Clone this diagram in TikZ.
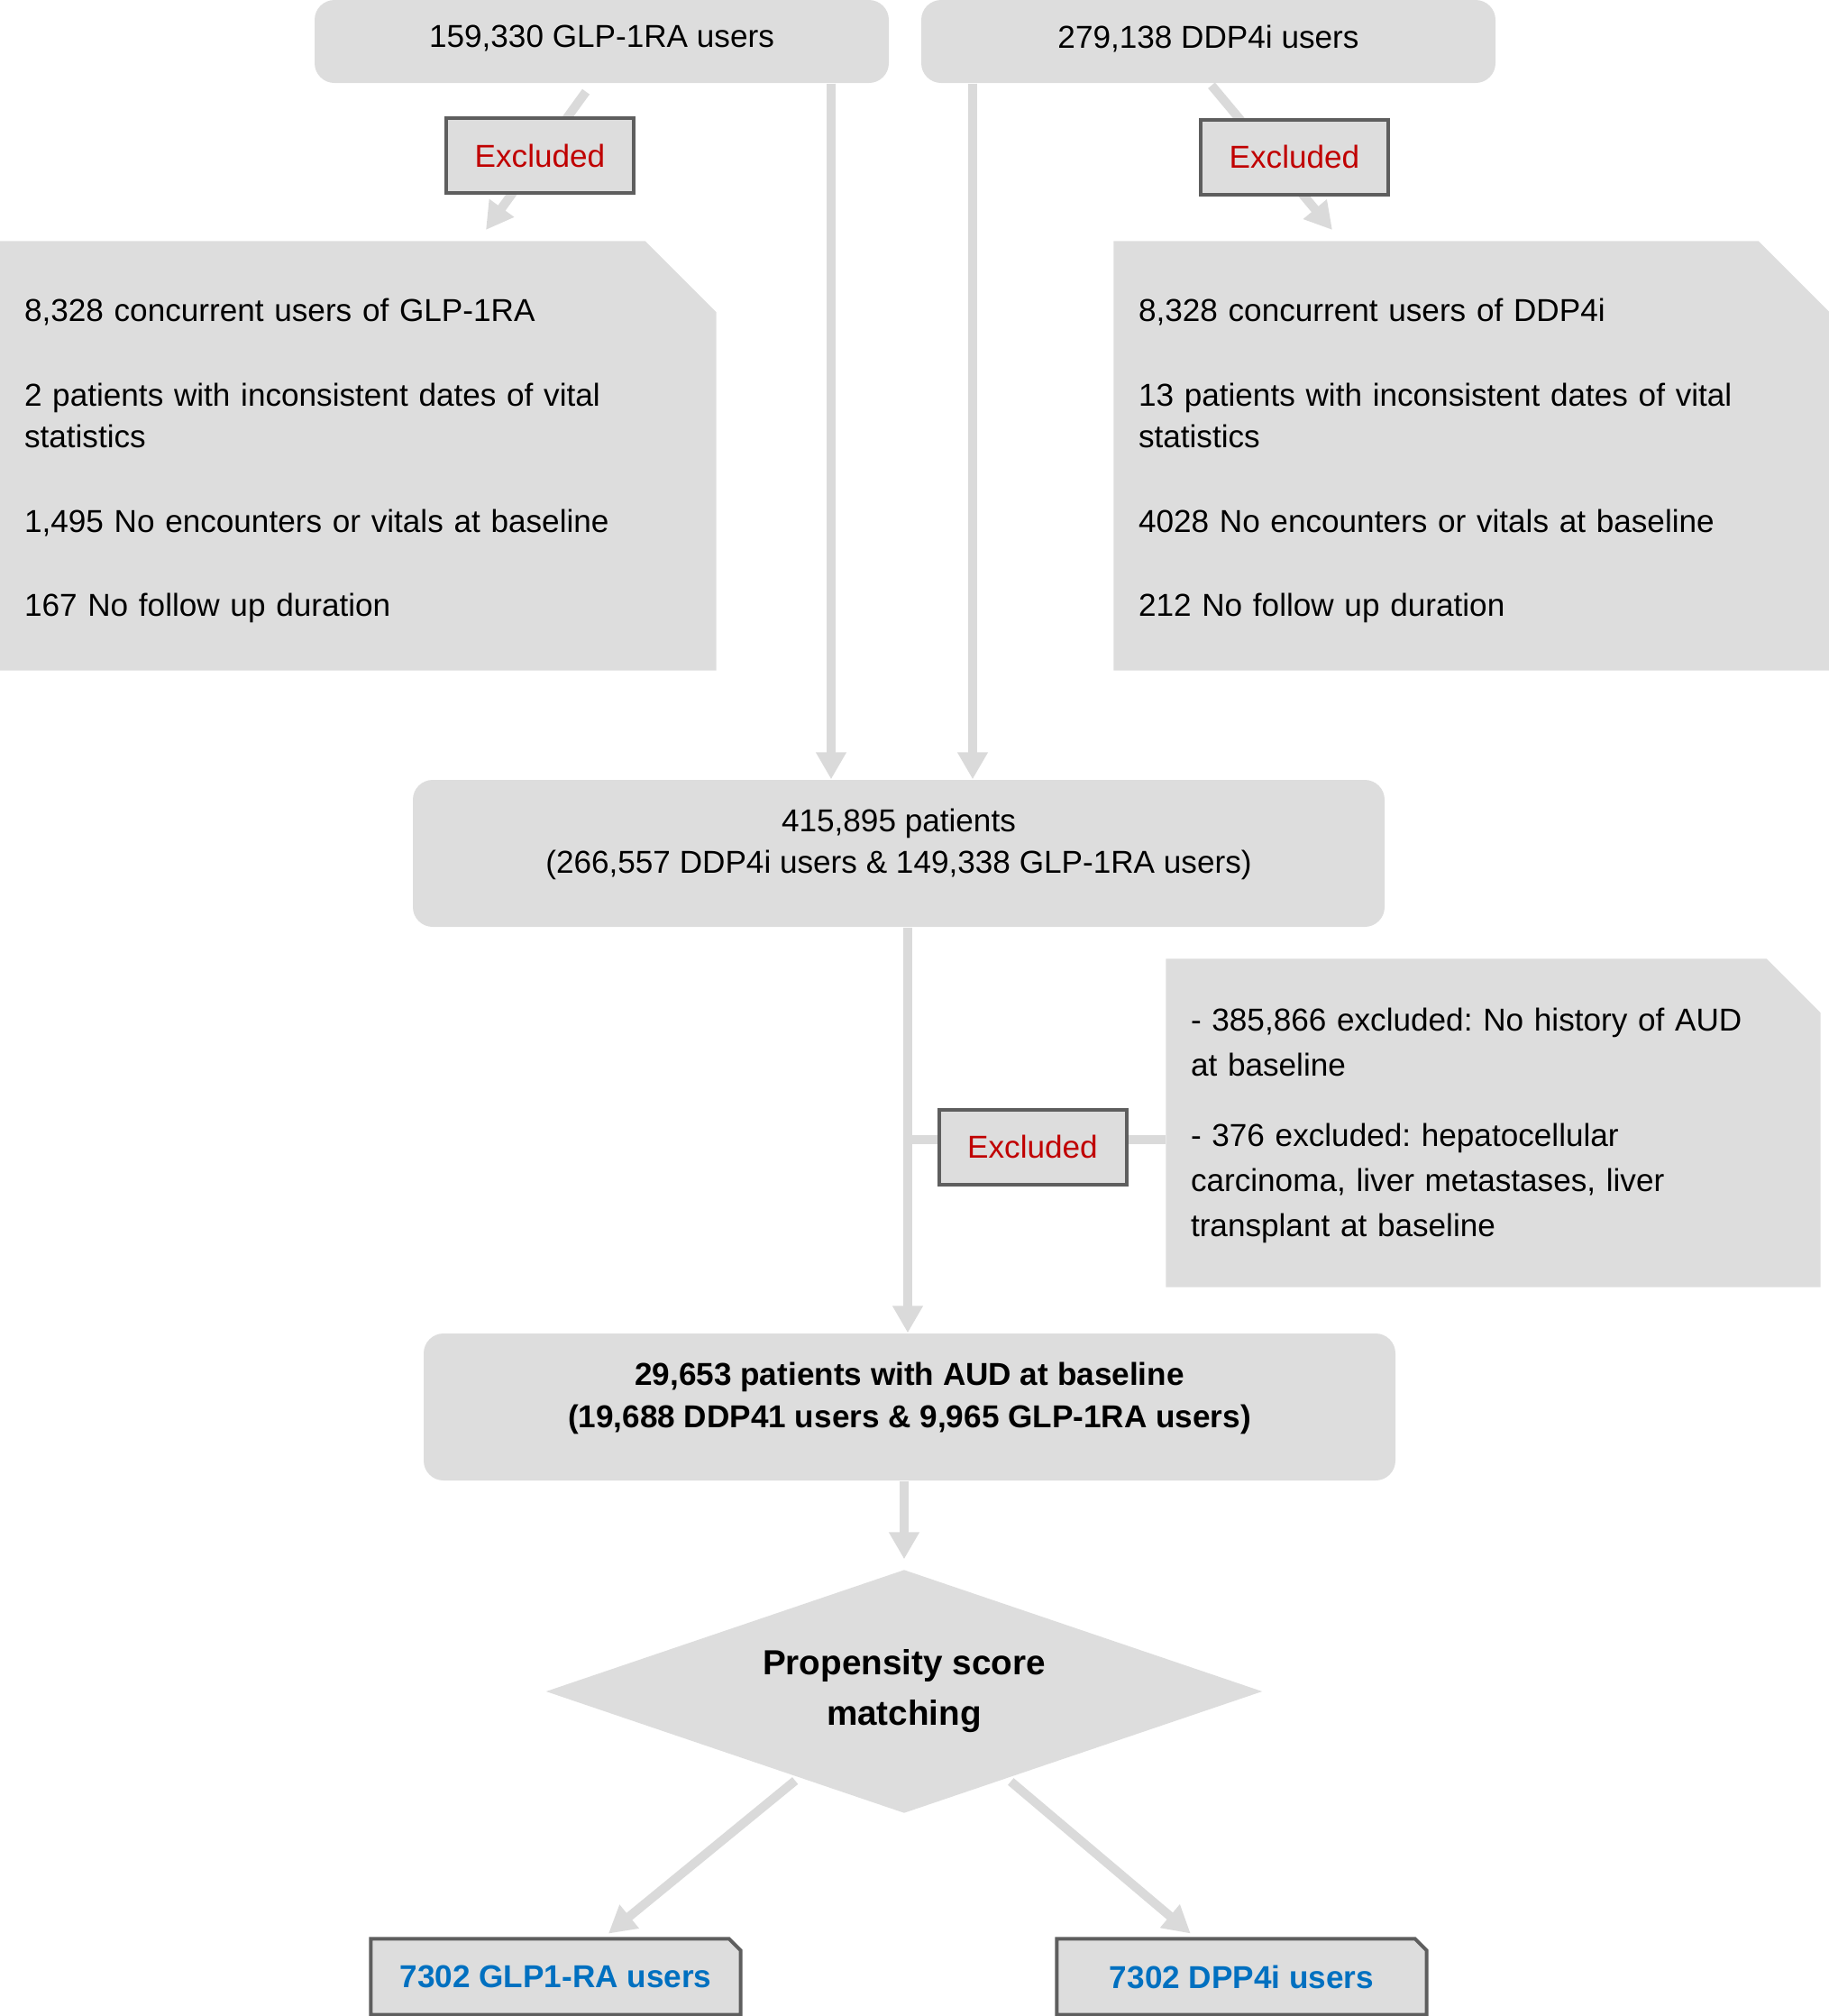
\documentclass[tikz,border=0pt]{standalone}
\usepackage{fontspec}
\setmainfont{Liberation Sans}
\frenchspacing
\usetikzlibrary{calc,positioning,backgrounds,shapes.geometric,arrows.meta}
\definecolor{boxgray}{HTML}{DDDDDD}
\definecolor{linegray}{HTML}{DADADA}
\definecolor{framegray}{HTML}{5E5E5E}
\definecolor{exred}{HTML}{C00000}
\definecolor{resblue}{HTML}{0070C0}
\tikzstyle{every node}+=[inner sep=0.5mm,font=\fontsize{10}{13.3}\selectfont]
\tikzstyle{countbox}=[rectangle,rounded corners=0.22cm,fill=boxgray,align=center,minimum width=10.78cm,minimum height=1.63cm]
\tikzstyle{notebox}=[rectangle,inner xsep=0.27cm,align=left]
\tikzstyle{exbox}=[rectangle,fill=boxgray,draw=framegray,line width=0.04cm,text=exred,minimum width=2.08cm,minimum height=0.83cm]
\tikzstyle{decision}=[diamond,aspect=2.94,fill=boxgray,inner sep=0pt,minimum width=7.95cm,minimum height=2.70cm,align=center,font=\bfseries\fontsize{11}{15.9}\selectfont]
\tikzstyle{resultbox}=[rectangle,minimum width=4.09cm,minimum height=0.83cm,text=resblue,font=\bfseries\fontsize{10}{13.3}\selectfont]
\tikzstyle{arrowline}=[draw=linegray,line width=0.1cm,-{Triangle[length=0.3cm,width=0.32cm]}]
\tikzstyle{plainline}=[draw=linegray,line width=0.1cm]
\newcommand{\cutbox}[3][]{
	\path[#1] (#2.south west) -- (#2.north west) -- ([xshift=-#3]#2.north east)
		-- ([yshift=-#3]#2.north east) -- (#2.south east) -- cycle;
}
\newcommand{\drawarrows}[2][]{
	\foreach \a/\b in {#2}{
		\draw[arrowline,#1] (\a) -- (\b);
	}
}

\begin{document}
\begin{tikzpicture}
	\useasboundingbox (0,0) rectangle (20.29,-22.36);
	\node[countbox, minimum width=6.37cm, minimum height=0.92cm] (glp) at (6.675,-0.46) {159,330 GLP-1RA users\rule[-3.2pt]{0pt}{0pt}};
	\node[countbox, minimum width=6.37cm, minimum height=0.92cm] (dpp) at (13.405,-0.46) {279,138 DDP4i users\rule[-3.2pt]{0pt}{0pt}};
	% exclusions of each group
	\coordinate (glpcut) at ([xshift=-0.175cm,yshift=-0.09cm]glp.south);
	\coordinate (glpcutend) at (5.39,-2.55);
	\coordinate (dppcut) at ([xshift=0.035cm,yshift=-0.02cm]dpp.south);
	\coordinate (dppcutend) at (14.78,-2.55);
	\drawarrows{glpcut/glpcutend,dppcut/dppcutend}
	\node[exbox] (exa) at (5.99,-1.725) {Excluded};
	\node[exbox] (exb) at (14.36,-1.74) {Excluded};
	\node[notebox, text width=7.40cm, minimum height=4.75cm] (exglp) at (3.97,-5.055) {\rule{0pt}{10.5pt}8,328 concurrent users of GLP-1RA\\[13.3pt]2 patients with inconsistent dates of vital\\statistics\\[13.3pt]1,495 No encounters or vitals at baseline\\[13.3pt]167 No follow up duration};
	\node[notebox, text width=7.39cm, minimum height=4.75cm] (exdpp) at (16.325,-5.055) {\rule{0pt}{10.5pt}8,328 concurrent users of DDP4i\\[13.3pt]13 patients with inconsistent dates of vital\\statistics\\[13.3pt]4028 No encounters or vitals at baseline\\[13.3pt]212 No follow up duration};
	% pooled cohort
	\node[countbox] (pat) at (9.97,-9.465) {415,895 patients\\(266,557 DDP4i users \& 149,338 GLP-1RA users)\rule[-7.8pt]{0pt}{0pt}};
	\coordinate (glpdown) at (9.22,0);
	\coordinate (dppdown) at (10.79,0);
	\draw[arrowline] (glp.south -| glpdown) -- (pat.north -| glpdown);
	\draw[arrowline] (dpp.south -| dppdown) -- (pat.north -| dppdown);
	\node[notebox, text width=6.71cm, minimum height=3.63cm, font=\fontsize{10}{14.2}\selectfont] (crit) at (16.565,-12.455) {\rule{0pt}{9pt}- 385,866 excluded: No history of AUD\\at baseline\\[8pt]- 376 excluded: hepatocellular\\carcinoma, liver metastases, liver\\transplant at baseline};
	\node[countbox, font=\bfseries\fontsize{10}{13.3}\selectfont] (aud) at (10.09,-15.605) {29,653 patients with AUD at baseline\\(19,688 DDP41 users \& 9,965 GLP-1RA users)\rule[-7.6pt]{0pt}{0pt}};
	\coordinate (split) at (10.07,-12.64);
	\draw[arrowline] (pat.south -| split) -- (aud.north -| split);
	\draw[plainline] (split) -- (split -| crit.west);
	\node[exbox] (exc) at (11.455,-12.72) {Excluded};
	% matching
	\node[decision] (psm) at (10.03,-18.76) {Propensity score\\matching};
	\draw[arrowline, shorten >=0.11cm] (aud.south -| psm.north) -- (psm.north);
	\node[resultbox] (glpm) at (6.165,-21.925) {7302 GLP1-RA users};
	\node[resultbox] (dppm) at (13.775,-21.925) {7302 DPP4i users};
	\drawarrows[shorten <=0.05cm, shorten >=0.09cm]{psm/glpm,psm/dppm}
	\begin{scope}[on background layer]
		\cutbox[fill=boxgray]{exglp}{0.79cm}
		\cutbox[fill=boxgray]{exdpp}{0.79cm}
		\cutbox[fill=boxgray]{crit}{0.6cm}
		\cutbox[fill=boxgray,draw=framegray,line width=0.04cm]{glpm}{0.13cm}
		\cutbox[fill=boxgray,draw=framegray,line width=0.04cm]{dppm}{0.13cm}
	\end{scope}
\end{tikzpicture}
\end{document}
